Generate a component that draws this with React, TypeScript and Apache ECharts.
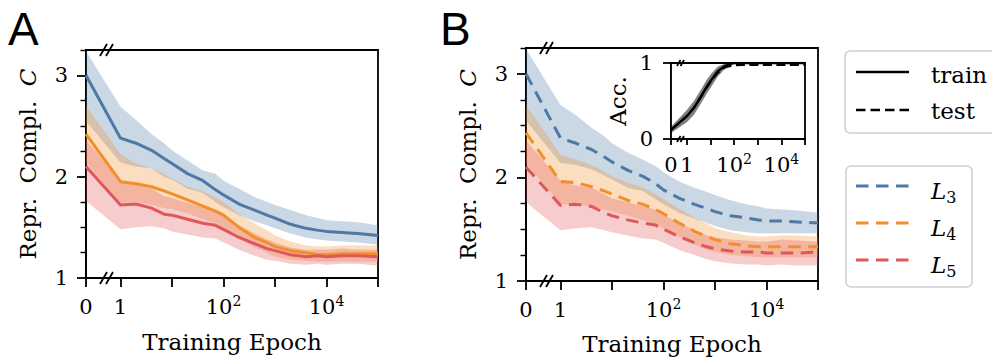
import React, { useEffect, useRef } from 'react';
import * as echarts from 'echarts';

// ---------------- data ----------------
const epochs = [0, 1, 2, 4, 7, 10, 20, 40, 70, 100, 200, 400, 700, 1000, 2000, 4000, 7000, 10000, 20000, 40000, 100000];

// Panel A (train)
const trainL3 = [3.00, 2.38, 2.33, 2.26, 2.18, 2.13, 2.03, 1.96, 1.87, 1.82, 1.73, 1.67, 1.62, 1.59, 1.53, 1.49, 1.47, 1.46, 1.45, 1.44, 1.42];
const trainL3Hi = [3.24, 2.69, 2.56, 2.42, 2.33, 2.26, 2.16, 2.06, 2.03, 1.96, 1.88, 1.80, 1.75, 1.72, 1.67, 1.62, 1.59, 1.57, 1.56, 1.55, 1.52];
const trainL3Lo = [2.55, 2.14, 2.10, 2.08, 2.00, 1.97, 1.88, 1.84, 1.75, 1.70, 1.62, 1.56, 1.52, 1.49, 1.44, 1.40, 1.38, 1.37, 1.36, 1.35, 1.33];
const trainL4 = [2.42, 1.95, 1.93, 1.90, 1.86, 1.83, 1.77, 1.71, 1.66, 1.62, 1.50, 1.40, 1.35, 1.31, 1.27, 1.25, 1.23, 1.23, 1.24, 1.24, 1.24];
const trainL4Hi = [2.70, 2.22, 2.13, 2.08, 2.03, 1.98, 1.90, 1.85, 1.80, 1.75, 1.63, 1.54, 1.47, 1.42, 1.36, 1.32, 1.31, 1.31, 1.32, 1.32, 1.32];
const trainL4Lo = [2.14, 1.74, 1.75, 1.72, 1.69, 1.68, 1.64, 1.58, 1.54, 1.50, 1.39, 1.30, 1.25, 1.21, 1.18, 1.17, 1.16, 1.16, 1.16, 1.16, 1.16];
const trainL5 = [2.10, 1.72, 1.73, 1.69, 1.63, 1.62, 1.58, 1.54, 1.52, 1.48, 1.40, 1.34, 1.29, 1.27, 1.23, 1.21, 1.22, 1.21, 1.22, 1.22, 1.21];
const trainL5Hi = [2.36, 1.97, 1.92, 1.88, 1.81, 1.79, 1.74, 1.70, 1.66, 1.61, 1.52, 1.44, 1.38, 1.35, 1.30, 1.28, 1.28, 1.28, 1.29, 1.28, 1.28];
const trainL5Lo = [1.76, 1.48, 1.50, 1.51, 1.49, 1.46, 1.43, 1.40, 1.39, 1.35, 1.28, 1.22, 1.18, 1.17, 1.14, 1.13, 1.14, 1.13, 1.14, 1.14, 1.12];

// Panel B (test)
const testL3 = [3.00, 2.38, 2.33, 2.27, 2.20, 2.15, 2.07, 2.01, 1.94, 1.88, 1.80, 1.74, 1.70, 1.67, 1.63, 1.61, 1.59, 1.58, 1.58, 1.57, 1.56];
const testL3Hi = [3.24, 2.70, 2.60, 2.48, 2.40, 2.33, 2.24, 2.17, 2.11, 2.05, 1.96, 1.90, 1.86, 1.83, 1.78, 1.74, 1.72, 1.70, 1.69, 1.68, 1.66];
const testL3Lo = [2.55, 2.14, 2.12, 2.08, 2.02, 1.98, 1.90, 1.87, 1.79, 1.74, 1.66, 1.60, 1.56, 1.53, 1.49, 1.47, 1.46, 1.46, 1.46, 1.46, 1.46];
const testL4 = [2.43, 1.96, 1.95, 1.91, 1.87, 1.84, 1.78, 1.74, 1.69, 1.65, 1.56, 1.48, 1.43, 1.40, 1.36, 1.34, 1.33, 1.33, 1.33, 1.33, 1.33];
const testL4Hi = [2.70, 2.22, 2.17, 2.12, 2.06, 2.01, 1.95, 1.90, 1.84, 1.79, 1.70, 1.61, 1.55, 1.51, 1.47, 1.44, 1.43, 1.43, 1.44, 1.44, 1.43];
const testL4Lo = [2.14, 1.74, 1.74, 1.72, 1.69, 1.67, 1.63, 1.59, 1.55, 1.51, 1.42, 1.35, 1.30, 1.28, 1.25, 1.24, 1.23, 1.23, 1.23, 1.23, 1.23];
const testL5 = [2.10, 1.73, 1.74, 1.72, 1.66, 1.63, 1.59, 1.56, 1.54, 1.50, 1.43, 1.37, 1.33, 1.31, 1.29, 1.28, 1.28, 1.27, 1.27, 1.27, 1.28];
const testL5Hi = [2.36, 1.97, 1.92, 1.90, 1.84, 1.80, 1.76, 1.72, 1.69, 1.64, 1.56, 1.49, 1.44, 1.42, 1.40, 1.39, 1.38, 1.38, 1.40, 1.39, 1.38];
const testL5Lo = [1.76, 1.49, 1.51, 1.52, 1.49, 1.47, 1.44, 1.41, 1.40, 1.37, 1.30, 1.25, 1.21, 1.19, 1.17, 1.16, 1.16, 1.15, 1.16, 1.15, 1.15];

// Inset: accuracy
const accTrain = [0.12, 0.30, 0.41, 0.56, 0.69, 0.76, 0.89, 0.96, 0.99, 1.0, 1.0, 1.0, 1.0, 1.0, 1.0, 1.0, 1.0, 1.0, 1.0, 1.0, 1.0];
const accTrainHi = [0.16, 0.38, 0.50, 0.65, 0.78, 0.85, 0.95, 0.99, 1.0, 1.0, 1.0, 1.0, 1.0, 1.0, 1.0, 1.0, 1.0, 1.0, 1.0, 1.0, 1.0];
const accTrainLo = [0.08, 0.22, 0.32, 0.47, 0.60, 0.67, 0.82, 0.92, 0.97, 0.99, 1.0, 1.0, 1.0, 1.0, 1.0, 1.0, 1.0, 1.0, 1.0, 1.0, 1.0];
const accTest = [0.12, 0.30, 0.41, 0.56, 0.68, 0.75, 0.87, 0.94, 0.96, 0.97, 0.975, 0.975, 0.975, 0.975, 0.975, 0.975, 0.975, 0.975, 0.975, 0.975, 0.975];

// ticks
const xTickEpochs = [0, 1, 10, 100, 1000, 10000, 100000];
const xLabelEpochs = [0, 1, 100, 10000];
const xLabelTexts = ['{n|0}', '{n|1}', '{n|10}{s|2}', '{n|10}{s|4}'];
const yMajor = [1, 2, 3];
const yMinor = [1.25, 1.5, 1.75, 2.25, 2.5, 2.75, 3.25];
const accTicks = [0, 1];
const legendNames = ['L3', 'L4', 'L5'];
const styleNames = ['train', 'test'];

// ---------------- style ----------------
const FONT = 'DejaVu Serif';
const FS = 21;   // tick labels
const NFS = 23;  // names / legend
const LIN = 0.67;
const XMAX = LIN + 5;
const sx = (e: number) => (e <= 1 ? e * LIN : LIN + Math.log10(e));
const COL = ['#4e79a7', '#f28e2b', '#e15759'];
const BAND = ['rgba(78,121,167,0.3)', 'rgba(242,142,43,0.3)', 'rgba(225,87,89,0.3)'];
const DASH = [12.5, 7.5];
const AXW = 1.8;

const grids = [
  { left: 86, top: 50, width: 292, height: 228 },
  { left: 526, top: 48, width: 292, height: 233 },
  { left: 671, top: 63, width: 134, height: 76 },
];

function xAxis(gridIndex: number, tickLen: number, margin: number, name: string, nameGap: number) {
  return {
    type: 'value', gridIndex, position: 'bottom', min: 0, max: XMAX,
    axisLine: { show: true, lineStyle: { color: '#000', width: AXW } },
    axisTick: { show: true, customValues: xTickEpochs.map(sx), length: tickLen, lineStyle: { color: '#000', width: AXW } },
    splitLine: { show: false },
    axisLabel: {
      show: true, customValues: xLabelEpochs.map(sx), margin, color: '#000', fontFamily: FONT, fontSize: FS,
      formatter: (v: number) => {
        const i = xLabelEpochs.findIndex((e) => Math.abs(sx(e) - v) < 1e-6);
        return i >= 0 ? xLabelTexts[i] : '';
      },
      rich: {
        n: { fontFamily: FONT, fontSize: FS, lineHeight: 26, color: '#000' },
        s: { fontFamily: FONT, fontSize: 14, lineHeight: 14, verticalAlign: 'top', color: '#000' },
      },
    },
    name, nameLocation: 'middle', nameGap,
    nameTextStyle: { fontFamily: FONT, fontSize: NFS, color: '#000' },
  };
}

function yMajorAxis(gridIndex: number, name: string, nameGap: number) {
  return {
    type: 'value', gridIndex, position: 'left', min: 1, max: 3.25,
    axisLine: { show: true, lineStyle: { color: '#000', width: AXW } },
    axisTick: { show: true, customValues: yMajor, length: 9, lineStyle: { color: '#000', width: AXW } },
    axisLabel: { show: true, customValues: yMajor, margin: 18, color: '#000', fontFamily: FONT, fontSize: FS },
    splitLine: { show: false },
    name, nameLocation: 'middle', nameGap, nameRotate: 90,
    nameTextStyle: {
      fontFamily: FONT, fontSize: NFS, color: '#000',
      rich: { i: { fontFamily: FONT, fontSize: NFS, fontStyle: 'italic', color: '#000' } },
    },
  };
}

function yMinorAxis(gridIndex: number) {
  return {
    type: 'value', gridIndex, position: 'left', min: 1, max: 3.25,
    axisLine: { show: false },
    axisTick: { show: true, customValues: yMinor, length: 5.5, lineStyle: { color: '#000', width: AXW * 0.8 } },
    axisLabel: { show: false },
    splitLine: { show: false },
  };
}

function band(xi: number, yi: number, lo: number[], hi: number[], fill: string, z = 1) {
  return {
    type: 'custom', xAxisIndex: xi, yAxisIndex: yi, z, silent: true,
    data: epochs.map((e, i) => [sx(e), lo[i], hi[i]]),
    encode: { x: 0, y: [1, 2] },
    renderItem: (params: any, api: any) => {
      if (params.dataIndex !== 0) return { type: 'group', children: [] };
      const top = epochs.map((e, i) => api.coord([sx(e), hi[i]]));
      const bot = epochs.map((e, i) => api.coord([sx(e), lo[i]])).reverse();
      return { type: 'polygon', shape: { points: top.concat(bot) }, style: { fill } };
    },
  };
}

function line(xi: number, yi: number, vals: number[], color: string, type: any, width: number, z = 3) {
  return {
    type: 'line', xAxisIndex: xi, yAxisIndex: yi, z, silent: true,
    data: epochs.map((e, i) => [sx(e), vals[i]]),
    symbol: 'none', showSymbol: false,
    lineStyle: { color, width, type, cap: 'butt', join: 'round' },
  };
}

function slashes(x: number, y: number, dx: number, dy: number, gap: number) {
  return [0, 1].map((k) => ({
    type: 'line', z: 50,
    shape: { x1: x + k * gap, y1: y + dy, x2: x + k * gap + dx, y2: y - dy },
    style: { stroke: '#000', lineWidth: 1.8 },
  }));
}

function buildOption() {
  const trainM = [trainL3, trainL4, trainL5];
  const trainH = [trainL3Hi, trainL4Hi, trainL5Hi];
  const trainLo = [trainL3Lo, trainL4Lo, trainL5Lo];
  const testM = [testL3, testL4, testL5];
  const testH = [testL3Hi, testL4Hi, testL5Hi];
  const testLo = [testL3Lo, testL4Lo, testL5Lo];
  const series: any[] = [];
  for (let k = 0; k < 3; k++) series.push(band(0, 0, trainLo[k], trainH[k], BAND[k], 1));
  for (let k = 0; k < 3; k++) series.push(line(0, 0, trainM[k], COL[k], 'solid', 3, 3));
  for (let k = 0; k < 3; k++) series.push(band(1, 2, testLo[k], testH[k], BAND[k], 1));
  for (let k = 0; k < 3; k++) series.push(line(1, 2, testM[k], COL[k], DASH, 3, 3));
  series.push(band(2, 4, accTrainLo, accTrainHi, 'rgba(0,0,0,0.5)', 5));
  series.push(line(2, 4, accTest, '#000', [9, 4.5], 2.2, 6));
  series.push(line(2, 4, accTrain, '#000', 'solid', 2.4, 7));

  const gridCommon = { show: true, borderColor: '#000', borderWidth: AXW, containLabel: false, outerBoundsMode: 'none' };

  const legendText = (x: number, y: number, rich: string) => ({
    type: 'text', x, y, z: 60,
    style: {
      text: rich, fill: '#000', font: `${NFS}px "${FONT}"`, align: 'left', verticalAlign: 'middle',
      rich: {
        i: { fontFamily: FONT, fontSize: NFS, fontStyle: 'italic', lineHeight: 28, verticalAlign: 'middle' },
        sub: { fontFamily: FONT, fontSize: 16, lineHeight: 18, verticalAlign: 'bottom' },
      },
    },
  });

  const legLines: any[] = [];
  const lys = [186, 223, 260];
  for (let k = 0; k < 3; k++) {
    legLines.push({ type: 'line', z: 60, shape: { x1: 856, y1: lys[k], x2: 909, y2: lys[k] }, style: { stroke: COL[k], lineWidth: 3, lineDash: DASH } });
    legLines.push(legendText(931, lys[k] + 5, `{i|L}{sub|${legendNames[k].slice(1)}}`));
  }

  const graphic: any[] = [
    { type: 'text', x: 8, y: 28.5, z: 60, style: { text: 'A', fill: '#000', font: '46px "Liberation Sans"', align: 'left', verticalAlign: 'middle' } },
    { type: 'text', x: 440, y: 28.5, z: 60, style: { text: 'B', fill: '#000', font: '46px "Liberation Sans"', align: 'left', verticalAlign: 'middle' } },
    ...slashes(100, 50, 7, 6, 6),
    ...slashes(100, 278, 7, 6, 6),
    ...slashes(540, 48, 7, 6, 6),
    ...slashes(540, 281, 7, 6, 6),
    ...slashes(677, 63, 3.5, 3, 3.5),
    ...slashes(677, 139, 3.5, 3, 3.5),
    // legend box 1
    { type: 'rect', z: 55, shape: { x: 845, y: 51, width: 170, height: 82, r: 5 }, style: { fill: '#fff', stroke: '#d0d0d0', lineWidth: 1.6 } },
    { type: 'line', z: 60, shape: { x1: 856, y1: 72, x2: 909, y2: 72 }, style: { stroke: '#000', lineWidth: 2.6 } },
    { type: 'text', x: 931, y: 74.5, z: 60, style: { text: styleNames[0], fill: '#000', font: `${NFS}px "${FONT}"`, align: 'left', verticalAlign: 'middle' } },
    { type: 'line', z: 60, shape: { x1: 856, y1: 110, x2: 909, y2: 110 }, style: { stroke: '#000', lineWidth: 2.6, lineDash: [9.5, 5] } },
    { type: 'text', x: 931, y: 111, z: 60, style: { text: styleNames[1], fill: '#000', font: `${NFS}px "${FONT}"`, align: 'left', verticalAlign: 'middle' } },
    // legend box 2
    { type: 'rect', z: 55, shape: { x: 846, y: 166, width: 126, height: 121, r: 5 }, style: { fill: '#fff', stroke: '#d0d0d0', lineWidth: 1.6 } },
    ...legLines,
  ];

  return {
    animation: false,
    backgroundColor: '#fff',
    grid: [
      { ...grids[0], ...gridCommon },
      { ...grids[1], ...gridCommon },
      { ...grids[2], ...gridCommon, backgroundColor: '#fff', z: 4 },
    ],
    xAxis: [
      xAxis(0, 9, 16, 'Training Epoch', 52),
      xAxis(1, 9, 16, 'Training Epoch', 51),
      { ...xAxis(2, 6, 13, '', 0), name: '' },
    ],
    yAxis: [
      yMajorAxis(0, 'Repr.  Compl.  {i|C}', 47),
      yMinorAxis(0),
      yMajorAxis(1, 'Repr.  Compl.  {i|C}', 47),
      yMinorAxis(1),
      {
        type: 'value', gridIndex: 2, position: 'left', min: 0, max: 1,
        axisLine: { show: true, lineStyle: { color: '#000', width: AXW } },
        axisTick: { show: true, customValues: accTicks, length: 8, lineStyle: { color: '#000', width: AXW } },
        axisLabel: { show: true, customValues: accTicks, margin: 18, color: '#000', fontFamily: FONT, fontSize: FS },
        splitLine: { show: false },
        name: 'Acc.', nameLocation: 'middle', nameGap: 42, nameRotate: 90,
        nameTextStyle: { fontFamily: FONT, fontSize: NFS, color: '#000' },
      },
    ],
    series,
    graphic,
  };
}

export default function App() {
  const ref = useRef<HTMLDivElement>(null);
  useEffect(() => {
    if (!ref.current) return;
    const chart = echarts.init(ref.current, null, { renderer: 'svg' });
    chart.setOption(buildOption() as any);
    return () => chart.dispose();
  }, []);
  return <div ref={ref} style={{ position: 'absolute', left: 0, top: 0, width: 992, height: 357, background: '#fff' }} />;
}
